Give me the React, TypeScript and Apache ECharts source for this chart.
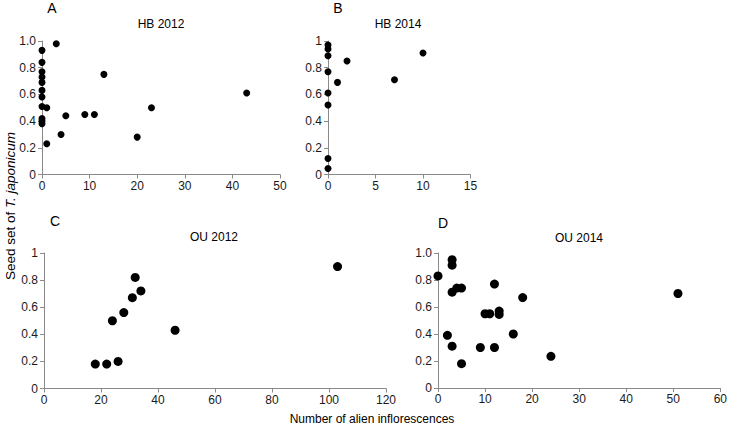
import React, { useEffect, useRef } from "react";
import * as echarts from "echarts";

const panelLetters = ["A", "B", "C", "D"];
const panelTitles = ["HB 2012", "HB 2014", "OU 2012", "OU 2014"];
const xMaxes = [50, 15, 120, 60];
const xIntervals = [10, 5, 20, 10];
const yTicksOneDecimal = [true, false, false, true];

const hb2012: [number, number][] = [
  [0, 0.93], [0, 0.84], [0, 0.77], [0, 0.73], [0, 0.69], [0, 0.63], [0, 0.58],
  [0, 0.51], [0, 0.42], [0, 0.40], [0, 0.38],
  [3, 0.98], [1, 0.5], [1, 0.23], [4, 0.3], [5, 0.44], [9, 0.45], [11, 0.45],
  [13, 0.75], [20, 0.28], [23, 0.5], [43, 0.61],
];
const hb2014: [number, number][] = [
  [0, 0.97], [0, 0.94], [0, 0.89], [0, 0.77], [0, 0.61], [0, 0.52], [0, 0.12], [0, 0.045],
  [1, 0.69], [2, 0.85], [7, 0.71], [10, 0.91],
];
const ou2012: [number, number][] = [
  [18, 0.18], [22, 0.18], [26, 0.2], [24, 0.5], [28, 0.56], [31, 0.67],
  [32, 0.82], [34, 0.72], [46, 0.43], [103, 0.9],
];
const ou2014: [number, number][] = [
  [0, 0.83], [3, 0.95], [3, 0.91], [3, 0.71], [4, 0.74], [5, 0.74], [2, 0.39],
  [3, 0.31], [5, 0.18], [9, 0.3], [10, 0.55], [11, 0.55], [12, 0.77], [12, 0.3],
  [13, 0.57], [13, 0.545], [16, 0.4], [18, 0.67], [24, 0.235], [51, 0.7],
];
const seriesData = [hb2012, hb2014, ou2012, ou2014];

const xAxisName = "Number of alien inflorescences";
const yAxisNamePlain = "Seed set of ";
const yAxisNameItalic = "T. japonicum";

export default function App() {
  const ref = useRef<HTMLDivElement>(null);
  useEffect(() => {
    if (!ref.current) return;
    const chart = echarts.init(ref.current, null, { renderer: "svg" });
    const font = "'Liberation Sans', Arial, Helvetica, sans-serif";
    const grids = [
      { left: 42, top: 41, width: 238, height: 133.5 },
      { left: 328, top: 41, width: 142.5, height: 133.5 },
      { left: 44, top: 253, width: 342, height: 135.5 },
      { left: 438, top: 253, width: 285, height: 135 },
    ];
    const axisLine = { lineStyle: { color: "#8a8a8a", width: 1 } };
    const axisTick = { length: 4, lineStyle: { color: "#8a8a8a" } };
    const labelStyle = { color: "#1a1a1a", fontSize: 12, fontFamily: font };
    const sizes = [7, 7, 9, 9];
    const letterPos = [[52, 8], [338, 8], [55, 221], [443, 223]];
    const titlePos = [[161, 24], [398, 24], [214, 237], [579, 238]];
    const graphics: any[] = [];
    panelLetters.forEach((l, i) => {
      graphics.push({
        type: "text", x: letterPos[i][0], y: letterPos[i][1],
        style: { text: l, fontSize: 14, fontFamily: font, fill: "#000", textAlign: "center", textVerticalAlign: "middle" },
      });
      graphics.push({
        type: "text", x: titlePos[i][0], y: titlePos[i][1],
        style: { text: panelTitles[i], fontSize: 12, fontFamily: font, fill: "#000", textAlign: "center", textVerticalAlign: "middle" },
      });
    });
    graphics.push({
      type: "text", x: 372, y: 419,
      style: { text: xAxisName, fontSize: 12, fontFamily: font, fill: "#000", textAlign: "center", textVerticalAlign: "middle" },
    });
    graphics.push({
      type: "text", x: 10, y: 206, rotation: Math.PI / 2,
      style: {
        text: "{n|" + yAxisNamePlain + "}{i|" + yAxisNameItalic + "}",
        textAlign: "center", textVerticalAlign: "middle",
        rich: {
          n: { fontSize: 13.5, fontFamily: font, fill: "#000" },
          i: { fontSize: 13.5, fontFamily: font, fontStyle: "italic", fill: "#000" },
        },
      },
    });
    chart.setOption({
      animation: false,
      backgroundColor: "#fff",
      grid: grids,
      xAxis: grids.map((_, i) => ({
        type: "value", gridIndex: i, min: 0, max: xMaxes[i], interval: xIntervals[i],
        splitLine: { show: false }, axisLine, axisTick,
        axisLabel: { ...labelStyle, margin: 5 },
      })),
      yAxis: grids.map((_, i) => ({
        type: "value", gridIndex: i, min: 0, max: 1, interval: 0.2,
        splitLine: { show: false }, axisLine: { show: true, ...axisLine }, axisTick: { show: true, ...axisTick },
        axisLabel: {
          ...labelStyle, margin: 6,
          formatter: (v: number) => (v === 0 ? "0" : yTicksOneDecimal[i] ? v.toFixed(1) : String(Math.round(v * 10) / 10)),
        },
      })),
      series: seriesData.map((d, i) => ({
        type: "scatter", xAxisIndex: i, yAxisIndex: i, data: d,
        symbolSize: sizes[i], itemStyle: { color: "#000", opacity: 1 },
      })),
      graphic: graphics,
    });
    return () => chart.dispose();
  }, []);
  return <div ref={ref} style={{ position: "fixed", left: 0, top: 0, width: 730, height: 427 }} />;
}
